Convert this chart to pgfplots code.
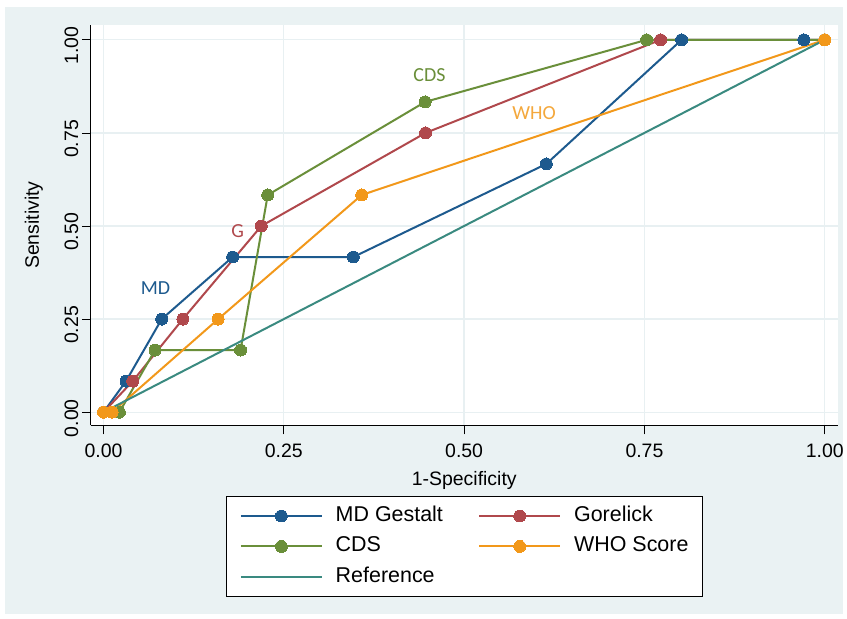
\documentclass[border=0pt]{standalone}
\usepackage{fontspec}
\setmainfont{Liberation Sans}
\newfontfamily\carlito{Carlito}
\usepackage{pgfplots}
\pgfplotsset{compat=1.18}
\definecolor{mdblue}{RGB}{29,90,142}
\definecolor{gorered}{RGB}{176,72,76}
\definecolor{cdsgreen}{RGB}{106,143,58}
\definecolor{whoorange}{RGB}{242,152,26}
\definecolor{refteal}{RGB}{58,138,128}
\definecolor{bgc}{RGB}{234,242,243}
\definecolor{gridc}{RGB}{232,240,242}
\begin{document}
\begin{tikzpicture}
\fill[white] (-91pt,-193.5pt) rectangle (756pt,426.5pt);
\fill[bgc] (-86pt,-189.5pt) rectangle (754pt,419.5pt);
\begin{axis}[
  at={(0pt,0pt)}, anchor=south west,
  scale only axis, width=749pt, height=401.5pt,
  xmin=-0.0177, xmax=1.018, ymin=-0.0354, ymax=1.040,
  axis x line*=bottom, axis y line*=left,
  axis line style={black, line width=0.8pt},
  axis background/.style={fill=white},
  tick align=outside, major tick length=9pt,
  tick style={black, line width=0.8pt},
  xtick={0,0.25,0.5,0.75,1}, ytick={0,0.25,0.5,0.75,1},
  grid=major, major grid style={color=gridc, line width=1.3pt},
  /pgf/number format/assume math mode=true,
  /pgf/number format/fixed, /pgf/number format/fixed zerofill, /pgf/number format/precision=2,
  ticklabel style={font=\fontsize{19.5}{23}\selectfont},
  xticklabel style={yshift=-6pt},
  yticklabel style={rotate=90, anchor=south, xshift=-6pt},
  label style={font=\fontsize{19.5}{23}\selectfont},
  xlabel={1-Specificity}, ylabel={Sensitivity},
  xlabel style={at={(axis description cs:0.5,-0.138)}, anchor=center},
  ylabel style={at={(axis description cs:-0.0761,0.5)}, anchor=center, rotate=0},
  legend columns=2,
  legend style={at={(axis description cs:0.5,-0.1756)}, anchor=north,
    draw=black, line width=0.8pt, fill=white,
    font=\fontsize{21.5}{25}\selectfont,
    nodes={inner sep=0pt, text height=15.5pt, text depth=4.5pt},
    inner xsep=13.7pt, inner ysep=10pt, row sep=10.5pt,
    /tikz/every odd column/.append style={column sep=13pt},
    /tikz/every even column/.append style={column sep=35.5pt}},
  legend cell align=left,
  legend image code/.code={\draw[mark repeat=2,mark phase=2,#1] plot coordinates {(0pt,0pt) (40.5pt,0pt) (81pt,0pt)};},
]
\addplot[color=mdblue, line width=2pt, mark=*, mark size=6pt, mark options={solid, fill=mdblue, draw=mdblue, line width=0pt}] coordinates {
 (0,0) (0.0312,0.0833) (0.0807,0.25) (0.179,0.4167) (0.3464,0.4167) (0.614,0.6667) (0.8015,1) (0.971,1) (1,1)};
\addlegendentry{MD Gestalt}
\addplot[color=gorered, line width=2pt, mark=*, mark size=6pt, mark options={solid, fill=gorered, draw=gorered, line width=0pt}] coordinates {
 (0,0) (0.0405,0.0833) (0.11,0.25) (0.2188,0.5) (0.4465,0.75) (0.7724,1) (1,1)};
\addlegendentry{Gorelick}
\addplot[color=cdsgreen, line width=2pt, mark=*, mark size=6pt, mark options={solid, fill=cdsgreen, draw=cdsgreen, line width=0pt}] coordinates {
 (0,0) (0.022,0) (0.0714,0.1667) (0.19,0.1667) (0.2277,0.5833) (0.446,0.8333) (0.753,1) (1,1)};
\addlegendentry{CDS}
\addplot[color=whoorange, line width=2pt, mark=*, mark size=6pt, mark options={solid, fill=whoorange, draw=whoorange, line width=0pt}] coordinates {
 (0,0) (0.012,0) (0.159,0.25) (0.358,0.5833) (1,1)};
\addlegendentry{WHO Score}
\addplot[color=refteal, line width=2pt, no marks] coordinates {(0,0) (1,1)};
\addlegendentry{Reference}
\node[text=mdblue, font=\carlito\fontsize{20}{24}\selectfont] at (axis cs:0.072,0.332) {MD};
\node[text=gorered, font=\carlito\fontsize{20}{24}\selectfont] at (axis cs:0.186,0.485) {G};
\node[text=cdsgreen, font=\carlito\fontsize{20}{24}\selectfont] at (axis cs:0.452,0.906) {CDS};
\node[text=whoorange!85!white, font=\carlito\fontsize{20}{24}\selectfont] at (axis cs:0.597,0.804) {WHO};
\end{axis}
\end{tikzpicture}
\end{document}
